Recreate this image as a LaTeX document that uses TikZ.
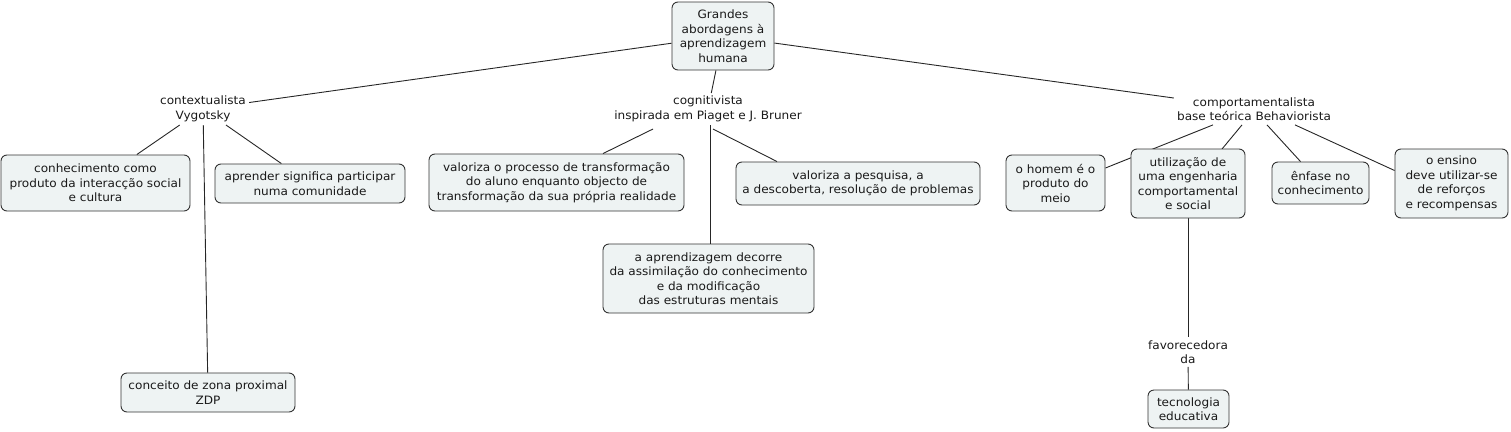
\documentclass[tikz,border=0pt]{standalone}
\usepackage{fontspec}
\setmainfont{DejaVu Sans}[FakeStretch=1.05]
\usetikzlibrary{calc}
\definecolor{boxfill}{HTML}{EEF3F3}
\definecolor{boxline}{HTML}{333333}
\definecolor{txt}{HTML}{1A1A1A}
\tikzset{
  every node/.style={font=\fontsize{11.5}{14.5}\selectfont, text=txt},
  concept/.style={draw=boxline, line width=0.9pt, fill=boxfill, rounded corners=6pt,
    align=center, inner sep=0pt},
  lbl/.style={align=center, inner sep=3pt},
  conn/.style={draw=black!85, line width=0.9pt}
}
\begin{document}
\begin{tikzpicture}[x=1pt,y=-1pt]
\useasboundingbox (0,0) rectangle (1511,431);
% labels
\node[lbl] (L1) at (203,109) {contextualista\\Vygotsky};
\node[lbl] (L2) at (708,109) {cognitivista\\inspirada em Piaget e J. Bruner};
\node[lbl] (L3) at (1254,109) {comportamentalista\\base teórica Behaviorista};
\node[lbl] (L4) at (1188,352) {favorecedora\\da};
% box positions
\path
  (723,36) coordinate (rootc)
  (95.5,183) coordinate (k1c)
  (310,183.5) coordinate (k2c)
  (208,392.5) coordinate (k3c)
  (556.5,182.5) coordinate (c1c)
  (858,183.5) coordinate (c2c)
  (708.5,278.5) coordinate (c3c)
  (1055.5,183) coordinate (b1c)
  (1188,183.5) coordinate (b2c)
  (1320.5,183) coordinate (b3c)
  (1451.5,183.5) coordinate (b4c)
  (1188.5,409) coordinate (b5c);
\node[concept, minimum width=102pt, minimum height=68pt] (root) at (rootc) {Grandes\\abordagens à\\aprendizagem\\humana};
\node[concept, minimum width=189pt, minimum height=56pt] (k1) at (k1c) {conhecimento como\\produto da interacção social\\e cultura};
\node[concept, minimum width=190pt, minimum height=39pt] (k2) at (k2c) {aprender significa participar\\numa comunidade};
\node[concept, minimum width=174pt, minimum height=39pt] (k3) at (k3c) {conceito de zona proximal\\ZDP};
\node[concept, minimum width=255pt, minimum height=57pt] (c1) at (c1c) {valoriza o processo de transformação\\do aluno enquanto objecto de\\transformação da sua própria realidade};
\node[concept, minimum width=244pt, minimum height=43pt] (c2) at (c2c) {valoriza a pesquisa, a\\a descoberta, resolução de problemas};
\node[concept, minimum width=211pt, minimum height=69pt] (c3) at (c3c) {a aprendizagem decorre\\da assimilação do conhecimento\\e da modificação\\das estruturas mentais};
\node[concept, minimum width=99pt, minimum height=56pt] (b1) at (b1c) {o homem é o\\produto do\\meio};
\node[concept, minimum width=97pt, minimum height=42pt] (b3) at (b3c) {ênfase no\\conhecimento};
\node[concept, minimum width=113pt, minimum height=69pt] (b4) at (b4c) {o ensino\\deve utilizar-se\\de reforços\\e recompensas};
\node[concept, minimum width=81pt, minimum height=38pt] (b5) at (b5c) {tecnologia\\educativa};
% connectors
\draw[conn] (root) -- (L1);
\draw[conn] (root) -- (L2);
\draw[conn] (root) -- (L3);
\draw[conn] (L1) -- (k1);
\draw[conn] (L1) -- (k2);
\draw[conn] (L1) -- (k3);
\draw[conn] ($(L2.south)+(-55,4)$) -- ($(c1.north)+(46.5,0)$);
\draw[conn] ($(L2.south)+(2,0)$) -- ($(c3.north)+(1.5,0)$);
\draw[conn] ($(L2.south)+(5,4)$) -- ($(c2.north)+(-81,0)$);
\draw[conn] ($(L3.south)+(-41,1)$) -- ($(b1.east)+(0,-15)$);
\draw[conn] ($(L3.south)+(-12,1)$) -- ($(b2c)+(34,-34.5)$);
\draw[conn] ($(L3.south)+(13,1)$) -- ($(b3.north)+(-20,0)$);
\draw[conn] ($(L3.south)+(41,1)$) -- ($(b4.west)+(0,-13)$);
\draw[conn] (b2c) -- (L4);
\draw[conn] (L4) -- (b5);
% box drawn over the connector that passes behind it
\node[concept, minimum width=114pt, minimum height=69pt] (b2) at (b2c) {utilização de\\uma engenharia\\comportamental\\e social};
\end{tikzpicture}
\end{document}
